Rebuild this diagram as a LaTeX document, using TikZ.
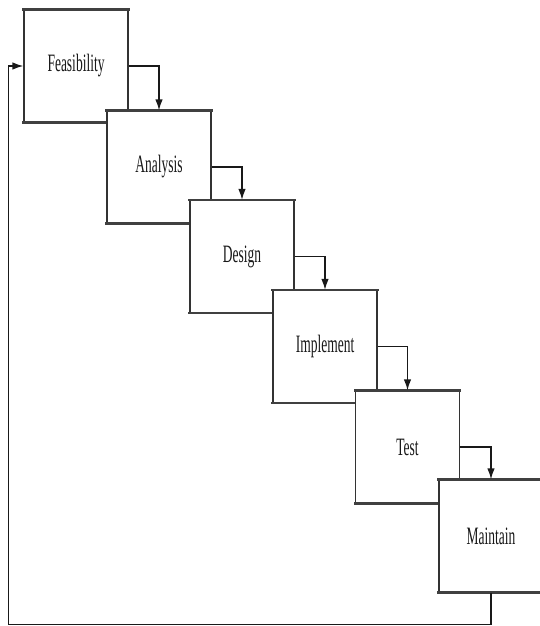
\documentclass[tikz,border=0pt]{standalone}
\usepackage{fontspec}
\setmainfont{Liberation Serif}
\usetikzlibrary{arrows.meta}
\newcommand\narrowtext[1]{\scalebox{0.54}[1]{#1}}
\tikzset{
  phase/.style={draw=black!80, line width=1.2pt, fill=white,
    minimum width=104pt, minimum height=112pt, inner sep=0pt,
    font=\fontsize{25}{29}\selectfont, text=black!90},
  rim/.style={draw=black!75, line width=2.4pt, line cap=rect},
  flow/.style={draw=black!90, line width=1.4pt,
    -{Latex[length=11pt,width=7.5pt]}},
}
\begin{document}
\begin{tikzpicture}[x=1pt, y=-1pt]
  \useasboundingbox (0,0) rectangle (540,626);
  \clip (0,0) rectangle (540,626);
  % stepped phase boxes, each partly covering the previous one
  \node[phase] (F) at (76,66)    {\narrowtext{Feasibility}};
  \draw[rim] (F.north west) -- (F.north east) (F.south west) -- (F.south east);
  \node[phase] (A) at (159,167)  {\narrowtext{Analysis}};
  \draw[rim] (A.north west) -- (A.north east) (A.south west) -- (A.south east);
  \node[phase] (D) at (242,256.5) {\narrowtext{Design}};
  \draw[rim] (D.north west) -- (D.north east) (D.south west) -- (D.south east);
  \node[phase] (I) at (325,346.5) {\narrowtext{Implement}};
  \draw[rim] (I.north west) -- (I.north east) (I.south west) -- (I.south east);
  \node[phase] (T) at (407.5,447) {\narrowtext{Test}};
  \draw[rim] (T.north west) -- (T.north east) (T.south west) -- (T.south east);
  \node[phase] (M) at (491,536)  {\narrowtext{Maintain}};
  \draw[rim] (M.north west) -- (M.north east) (M.south west) -- (M.south east);
  % hand-over arrows between phases
  \draw[flow] (F.east) -| (A.north);
  \draw[flow] (A.east) -| (D.north);
  \draw[flow] (D.east) -| (I.north);
  \draw[flow] (I.east) -| (T.north);
  \draw[flow] (T.east) -| (M.north);
  % feedback loop back to the first phase
  \coordinate (loop) at (8.3,624.5);
  \draw[flow] (M.south) |- (loop) |- (F.west);
\end{tikzpicture}
\end{document}
